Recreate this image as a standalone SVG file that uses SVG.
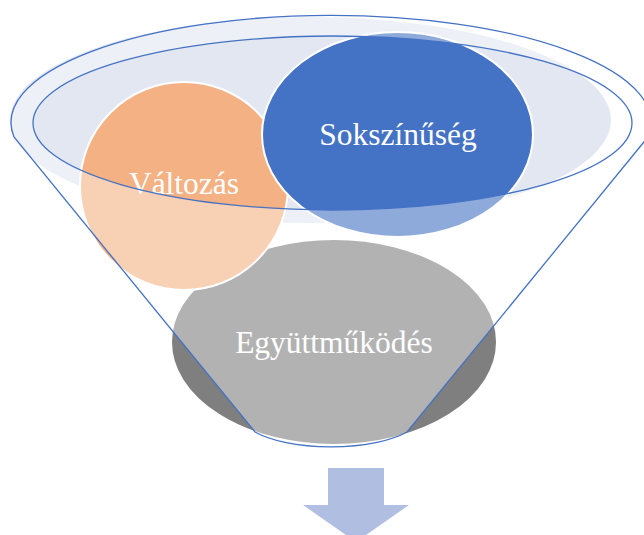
<svg xmlns="http://www.w3.org/2000/svg" width="644" height="535" viewBox="0 0 644 535">
  <style>
    .node { stroke: #FFFFFF; stroke-width: 2; }
    .label { font-family: "Liberation Serif", "Times New Roman", serif; font-size: 31.5px; fill: #FFFFFF; text-anchor: middle; }
    .outline { fill: none; stroke: #4472C4; stroke-width: 1.3; }
  </style>
  <rect width="644" height="535" fill="#FFFFFF"/>
  <g id="funnel-back">
    <ellipse cx="310.5" cy="120" rx="300.5" ry="103" fill="#E2E7F2"/>
  </g>
  <g id="node-egyuttmukodes">
    <ellipse class="node" cx="334" cy="342" rx="163" ry="103" fill="#7F7F7F"/>
    <text class="label" x="334" y="353">Együttműködés</text>
  </g>
  <g id="node-valtozas">
    <ellipse class="node" cx="184" cy="186" rx="104" ry="104" fill="#F4B183"/>
    <text class="label" x="184" y="194">Változás</text>
  </g>
  <g id="node-sokszinuseg">
    <ellipse class="node" cx="397.5" cy="134.5" rx="135.5" ry="102.5" fill="#4472C4"/>
    <text class="label" x="398" y="145">Sokszínűség</text>
  </g>
  <g id="funnel">
    <path d="M14,137 A320,107 0 1 1 648,137 L407,432 A90,32 0 0 1 255,432 Z M33,123 A299.5,87 0 1 0 632,123 A299.5,87 0 1 0 33,123 Z" fill="#FFFFFF" fill-opacity="0.4" fill-rule="evenodd" stroke="none"/>
    <path class="outline" d="M14,137 A320,107 0 1 1 648,137 L407,432 A90,32 0 0 1 255,432 Z"/>
    <ellipse class="outline" cx="332.5" cy="123" rx="299.5" ry="87"/>
  </g>
  <g id="connectors">
    <path id="arrow-down" d="M328,468 L384,468 L384,505 L409,505 L356,542 L303,505 L328,505 Z" fill="#B0BEE1"/>
  </g>
</svg>
